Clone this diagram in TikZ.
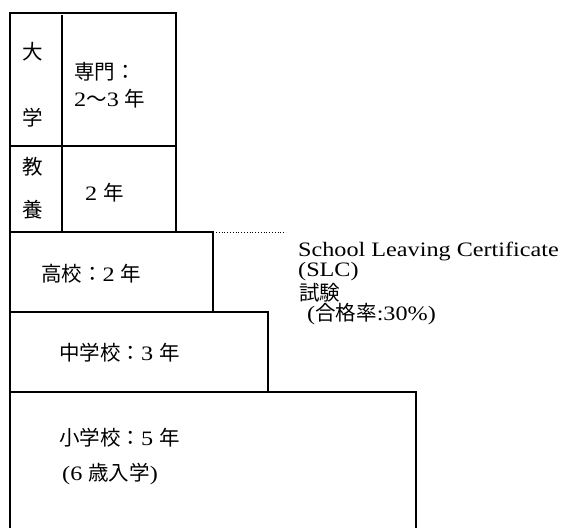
\documentclass[tikz,border=0pt]{standalone}
\usepackage{fontspec}
\setmainfont{Liberation Serif}[FakeStretch=1.18]
\newfontfamily\jp{Noto Sans CJK JP}
\begin{document}
\begin{tikzpicture}[x=1pt,y=-1pt,
  boxline/.style={line width=1.2pt, line cap=rect},
  lbl/.style={font=\fontsize{20.5}{24}\selectfont, inner sep=0pt, anchor=west},
  ch/.style={font=\fontsize{20.5}{24}\selectfont\jp, inner sep=0pt, anchor=center}]
\useasboundingbox (0,0) rectangle (564,527);
% boxes
\draw[boxline] (10,13) rectangle (176,232);
\draw[boxline] (62,16) -- (62,232);
\draw[boxline] (10,146) -- (176,146);
\draw[boxline] (10,232) rectangle (213,312);
\draw[boxline] (10,312) rectangle (268,392);
\draw[boxline] (10,540) -- (10,392) -- (416,392) -- (416,540);
% university
\node[ch] (dai) at (33,52) {大};
\node[ch] (gaku) at (33,118) {学};
\node[ch] (kyo) at (33,167) {教};
\node[ch] (yo) at (33,210) {養};
\node[lbl] (senmon) at (74,72) {\jp 専門：};
\node[lbl] (senyr) at (74,99) {2{\jp 〜}3 {\jp 年}};
\node[lbl] (kyoyr) at (85,193) {2 {\jp 年}};
% schools
\node[lbl] (koko) at (41,274) {{\jp 高校：}2 {\jp 年}};
\node[lbl] (chu) at (59,353) {{\jp 中学校：}3 {\jp 年}};
\node[lbl] (sho) at (59,438) {{\jp 小学校：}5 {\jp 年}};
\node[lbl] (nyu) at (62,474) {(6 {\jp 歳入学})};
% SLC
\coordinate (hstr) at (216,232);
\coordinate (dotend) at (286,232);
\draw[dotted, line width=0.8pt] (hstr) -- (dotend);
\node[lbl] (slc1) at (298,251) {School Leaving Certificate};
\node[lbl] (slc2) at (298,272) {(SLC)};
\node[lbl] (slc3) at (299,293) {\jp 試験};
\node[lbl] (slc4) at (307,314) {({\jp 合格率}:30\%)};
\end{tikzpicture}
\end{document}
